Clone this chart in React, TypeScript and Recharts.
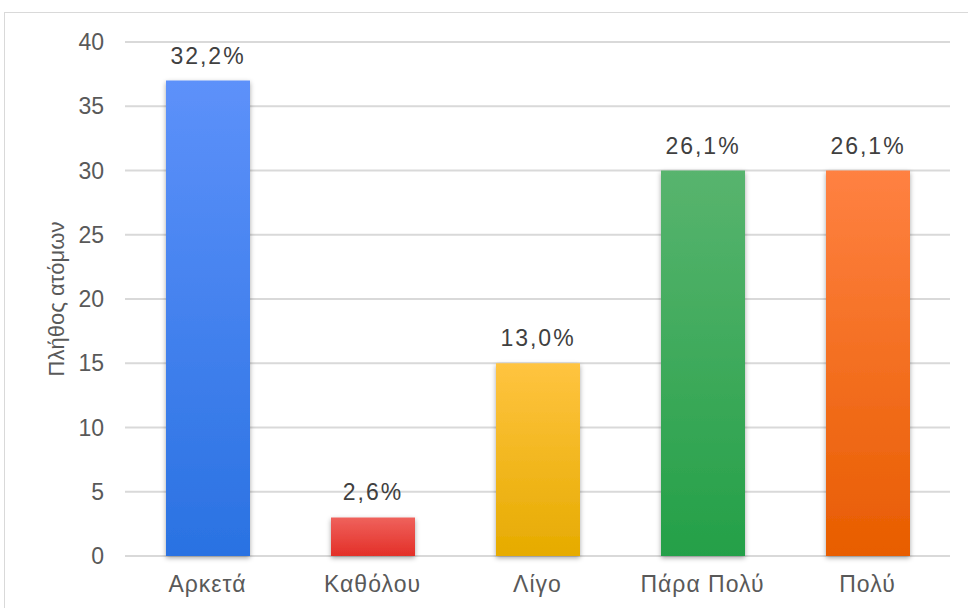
import { BarChart, Bar, XAxis, YAxis, CartesianGrid, Cell, LabelList, Label } from 'recharts';

const categories = ['Αρκετά', 'Καθόλου', 'Λίγο', 'Πάρα Πολύ', 'Πολύ'];
const counts = [37, 3, 15, 30, 30];
const percentLabels = ['32,2%', '2,6%', '13,0%', '26,1%', '26,1%'];
const yTicks = [0, 5, 10, 15, 20, 25, 30, 35, 40];

const gradients = [
    { top: '#5d91fa', bottom: '#2a72e2' },
    { top: '#ef625c', bottom: '#e32f28' },
    { top: '#ffc440', bottom: '#e6ab00' },
    { top: '#58b46e', bottom: '#24a048' },
    { top: '#ff8142', bottom: '#e85d00' },
];

const chartData = categories.map((name, i) => ({
    name,
    count: counts[i],
    pct: percentLabels[i],
}));

const font = '"Liberation Sans", Arial, sans-serif';

export default function App() {
    return (
        <div style={{ position: 'absolute', left: 0, top: 0, width: 968, height: 608, overflow: 'hidden', background: '#fff' }}>
            <div style={{
                position: 'absolute',
                left: 4,
                top: 12,
                width: 1100,
                height: 700,
                border: '1.5px solid #d9d9d9',
            }} />
            <BarChart
                width={968}
                height={608}
                data={chartData}
                margin={{ top: 42, right: 18, left: 0, bottom: 22 }}
                style={{ position: 'absolute', left: 0, top: 0, fontFamily: font }}
            >
                <defs>
                    {gradients.map((g, i) => (
                        <linearGradient key={i} id={`barGrad${i}`} x1="0" y1="0" x2="0" y2="1">
                            <stop offset="0%" stopColor={g.top} />
                            <stop offset="100%" stopColor={g.bottom} />
                        </linearGradient>
                    ))}
                    <filter id="barShadow" x="-20%" y="-10%" width="140%" height="130%">
                        <feDropShadow dx="0" dy="2" stdDeviation="2.5" floodColor="#000" floodOpacity="0.35" />
                    </filter>
                </defs>
                <CartesianGrid vertical={false} stroke="#d9d9d9" strokeWidth={2} />
                <XAxis
                    dataKey="name"
                    axisLine={false}
                    tickLine={false}
                    tickSize={0}
                    tickMargin={20}
                    tick={{ fill: '#595959', fontSize: 23, letterSpacing: 1 }}
                    interval={0}
                />
                <YAxis
                    width={125}
                    domain={[0, 40]}
                    ticks={yTicks}
                    axisLine={false}
                    tickLine={false}
                    tickSize={0}
                    tickMargin={21}
                    tick={{ fill: '#595959', fontSize: 23 }}
                >
                    <Label
                        content={({ viewBox }: any) => {
                            const cx = viewBox.x + 56;
                            const cy = viewBox.y + viewBox.height / 2;
                            return (
                                <text
                                    x={cx}
                                    y={cy}
                                    transform={`rotate(-90 ${cx} ${cy})`}
                                    textAnchor="middle"
                                    dominantBaseline="central"
                                    fill="#595959"
                                    fontSize={22}
                                    fontFamily={font}
                                >
                                    Πλήθος ατόμων
                                </text>
                            );
                        }}
                    />
                </YAxis>
                <Bar dataKey="count" barSize={84} isAnimationActive={false} filter="url(#barShadow)">
                    {chartData.map((_, i) => (
                        <Cell key={i} fill={`url(#barGrad${i})`} />
                    ))}
                    <LabelList
                        dataKey="pct"
                        position="top"
                        offset={17}
                        fill="#404040"
                        fontSize={23}
                        letterSpacing={2}
                        fontFamily={font}
                    />
                </Bar>
            </BarChart>
        </div>
    );
}
